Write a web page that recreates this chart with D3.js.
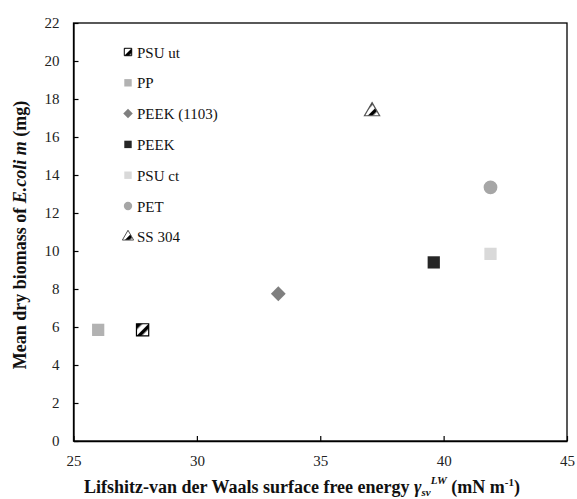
<!DOCTYPE html>
<html>
<head>
<meta charset="utf-8">
<script src="https://cdn.jsdelivr.net/npm/d3@7"></script>
</head>
<body style="margin:0; background:#fff">
<div id="chart"></div>
<script>
// data
const materials = ['PSU ut', 'PP', 'PEEK (1103)', 'PEEK', 'PSU ct', 'PET', 'SS 304'];
const energyLW = [27.8, 26.0, 33.3, 39.6, 41.9, 41.9, 37.1];
const biomass = [5.85, 5.85, 7.75, 9.4, 9.85, 13.35, 17.35];
const xTicks = [25, 30, 35, 40, 45];
const yTicks = [0, 2, 4, 6, 8, 10, 12, 14, 16, 18, 20, 22];

const width = 577, height = 499;
const margin = {left: 73.5, right: 10, top: 23, bottom: 58};
const fontName = 'Liberation Serif';

const svg = d3.select('#chart').append('svg')
    .attr('width', width)
    .attr('height', height);

const defs = svg.append('defs');
const hatch = defs.append('pattern')
    .attr('id', 'hatch')
    .attr('patternUnits', 'userSpaceOnUse')
    .attr('width', 8)
    .attr('height', 8)
    .attr('patternTransform', 'rotate(45)');
hatch.append('rect').attr('width', 8).attr('height', 8).attr('fill', '#fff');
hatch.append('rect').attr('width', 3.5).attr('height', 8).attr('fill', '#000');

const xScale = d3.scaleLinear().domain([25, 45]).range([margin.left, width - margin.right]);
const yScale = d3.scaleLinear().domain([0, 22]).range([height - margin.bottom, margin.top]);

// frame
svg.append('rect')
    .attr('x', xScale(25))
    .attr('y', yScale(22))
    .attr('width', xScale(45) - xScale(25))
    .attr('height', yScale(0) - yScale(22))
    .attr('fill', 'none')
    .attr('stroke', '#000')
    .attr('stroke-width', 1.3);

const xAxis = d3.axisBottom(xScale).tickValues(xTicks).tickSizeInner(-5).tickSizeOuter(0).tickPadding(14);
const yAxis = d3.axisLeft(yScale).tickValues(yTicks).tickSizeInner(-5).tickSizeOuter(0).tickPadding(14);

const gx = svg.append('g')
    .attr('transform', 'translate(0,' + yScale(0) + ')')
    .call(xAxis);
const gy = svg.append('g')
    .attr('transform', 'translate(' + xScale(25) + ',0)')
    .call(yAxis);
[gx, gy].forEach(g => {
    g.attr('font-family', null);
    g.select('.domain').attr('stroke', '#000').attr('stroke-width', 1.3);
    g.selectAll('.tick line').attr('stroke', '#000').attr('stroke-width', 1.2);
    g.selectAll('.tick text')
        .style('font-family', fontName)
        .attr('font-size', 15)
        .attr('fill', '#222');
});

const squareRot = {
    draw(context, size) {
        const r = Math.sqrt(size / 2);
        context.moveTo(0, -r);
        context.lineTo(r, 0);
        context.lineTo(0, r);
        context.lineTo(-r, 0);
        context.closePath();
    }
};

const styles = {
    'PSU ut': {shape: d3.symbolSquare, fill: 'url(#hatch)', stroke: '#000'},
    'PP': {shape: d3.symbolSquare, fill: '#b2b2b2', stroke: 'none'},
    'PEEK (1103)': {shape: squareRot, fill: '#7f7f7f', stroke: 'none'},
    'PEEK': {shape: d3.symbolSquare, fill: '#262626', stroke: 'none'},
    'PSU ct': {shape: d3.symbolSquare, fill: '#d9d9d9', stroke: 'none'},
    'PET': {shape: d3.symbolCircle, fill: '#a6a6a6', stroke: 'none'},
    'SS 304': {shape: d3.symbolTriangle, fill: 'url(#hatch)', stroke: '#555'}
};

const points = materials.map((m, i) => ({name: m, x: energyLW[i], y: biomass[i]}));

svg.selectAll('path.pt')
    .data(points)
    .enter()
    .append('path')
    .attr('class', 'pt')
    .attr('transform', d => 'translate(' + xScale(d.x) + ',' + yScale(d.y) + ')')
    .attr('d', d => d3.symbol().type(styles[d.name].shape).size(d.name === 'PEEK (1103)' ? 110 : (d.name === 'SS 304' ? 100 : 150))())
    .attr('fill', d => styles[d.name].fill)
    .attr('stroke', d => styles[d.name].stroke)
    .attr('stroke-width', 1.2);

// legend
const legend = svg.append('g').attr('transform', 'translate(128,52)');
const rows = legend.selectAll('g')
    .data(materials)
    .enter()
    .append('g')
    .attr('transform', (d, i) => 'translate(0,' + (i * 30.8) + ')');
rows.append('path')
    .attr('d', d => d3.symbol().type(styles[d].shape).size(d === 'PEEK (1103)' ? 45 : 55)())
    .attr('fill', d => styles[d].fill)
    .attr('stroke', d => styles[d].stroke)
    .attr('stroke-width', 1);
rows.append('text')
    .attr('x', 9)
    .attr('y', 5.5)
    .style('font-family', fontName)
    .attr('font-size', 15)
    .attr('fill', '#111')
    .text(d => d);

// axis titles
const xTitle = svg.append('text')
    .attr('x', 302)
    .attr('y', 493)
    .attr('text-anchor', 'middle')
    .style('font-family', fontName)
    .attr('font-size', 18)
    .attr('font-weight', 'bold')
    .attr('fill', '#111');
xTitle.append('tspan').text('Lifshitz-van der Waals surface free energy ');
xTitle.append('tspan').attr('font-style', 'italic').text('γ');
xTitle.append('tspan').attr('font-style', 'italic').attr('font-size', 11).attr('dy', 3).text('sv');
xTitle.append('tspan').attr('font-style', 'italic').attr('font-size', 11).attr('dy', -12).text('LW');
xTitle.append('tspan').attr('dy', 9).text('  (mN m');
xTitle.append('tspan').attr('font-size', 11).attr('dy', -7).text('-1');
xTitle.append('tspan').attr('dy', 7).text(')');

const yTitle = svg.append('text')
    .attr('transform', 'translate(26,235) rotate(-90)')
    .attr('text-anchor', 'middle')
    .style('font-family', fontName)
    .attr('font-size', 18)
    .attr('font-weight', 'bold')
    .attr('fill', '#111');
yTitle.append('tspan').text('Mean dry biomass of ');
yTitle.append('tspan').attr('font-style', 'italic').text('E.coli m');
yTitle.append('tspan').text('  (mg)');
</script>
</body>
</html>
